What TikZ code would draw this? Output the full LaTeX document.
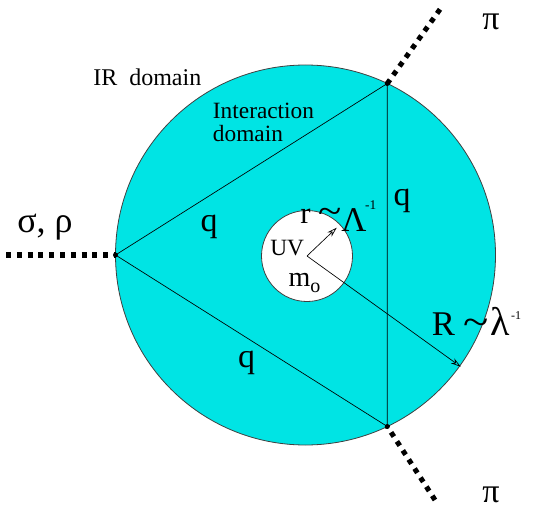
\documentclass[tikz,border=0pt]{standalone}
\usepackage{fontspec}
\setmainfont{Liberation Serif}
\usetikzlibrary{arrows.meta}
\definecolor{domcyan}{RGB}{0,228,228}
\tikzset{
  meson/.style={line width=3.8pt, dash pattern=on 3.8pt off 4.3pt},
  prop/.style={line width=0.5pt},
  lbl/.style={anchor=base west, inner sep=0pt},
  qlbl/.style={anchor=base, inner sep=0pt, font=\fontsize{25.5}{25.5}\selectfont},
  radarrow/.style={prop, -{Stealth[open, length=7.5pt, width=4.5pt]}},
}
\begin{document}
\begin{tikzpicture}[x=0.75pt,y=0.75pt]
  \useasboundingbox (0,0) rectangle (534,511);

  % domains
  \coordinate (O) at (305.5,256);
  \coordinate (o) at (307,255);
  \draw[black!75, line width=0.6pt, fill=domcyan] (O) circle[radius=190];
  \draw[black!75, line width=0.6pt, fill=white] (o) circle[radius=45.5];

  % vertices and external legs
  \coordinate (A) at (115.5,256);
  \coordinate (B) at (387.3,427.5);
  \coordinate (C) at (387.3,84.5);
  \coordinate (inL) at (6,256);
  \coordinate (outB) at (440,501.7);
  \coordinate (outC) at (435,11);
  \draw[prop] (A) -- (B) -- (C) -- cycle;
  \draw[meson] (inL) -- (A);
  \draw[meson] (outB) -- (B);
  \draw[meson] (outC) -- (C);
  \fill (A) circle[radius=2.5];
  \fill (B) circle[radius=2.5];
  \fill (C) circle[radius=2.5];

  % radii
  \coordinate (Rtip) at (460.7,144.3);
  \coordinate (rtip) at (336.7,283.3);
  \draw[radarrow] (o) -- (Rtip);
  \draw[radarrow] (o) -- (rtip);

  % labels
  \node[lbl, font=\fontsize{18}{18}\selectfont] (ir) at (93,425) {IR\ \ domain};
  \node[lbl, align=left, font=\fontsize{17.5}{17.5}\selectfont] (inter) at (212.7,369.3) {Interaction\\domain};
  \node[qlbl] (q1) at (209,280) {q};
  \node[qlbl] (q2) at (246.7,143.4) {q};
  \node[qlbl] (q3) at (402,305.4) {q};
  \node[lbl, font=\fontsize{27}{27}\selectfont] (sr) at (17,279) {σ, ρ};
  \node[qlbl] (pi1) at (491,481.7) {π};
  \node[qlbl] (pi2) at (491,8.3) {π};
  \node[lbl, font=\fontsize{17.5}{17.5}\selectfont] (uv) at (270,256) {UV};
  \node[lbl, font=\fontsize{21}{21}\selectfont] (m0) at (288.3,224.3) {m\raisebox{-4.5pt}{\fontsize{15}{15}\selectfont o}};
  \node[lbl, font=\fontsize{23}{23}\selectfont] (rl) at (300,288) {r \scalebox{1.4}[1.2]{\textasciitilde}\raisebox{-6pt}{\fontsize{26}{26}\selectfont Λ}\kern-1pt\raisebox{10pt}{\fontsize{10}{10}\selectfont -1}};
  \node[lbl, font=\fontsize{26}{26}\selectfont] (Rl) at (431.7,176) {R \scalebox{1.35}[1.15]{\textasciitilde}\kern1pt{\fontsize{30}{30}\selectfont λ}\kern1pt\raisebox{12pt}{\fontsize{9}{9}\selectfont -1}};
\end{tikzpicture}
\end{document}
